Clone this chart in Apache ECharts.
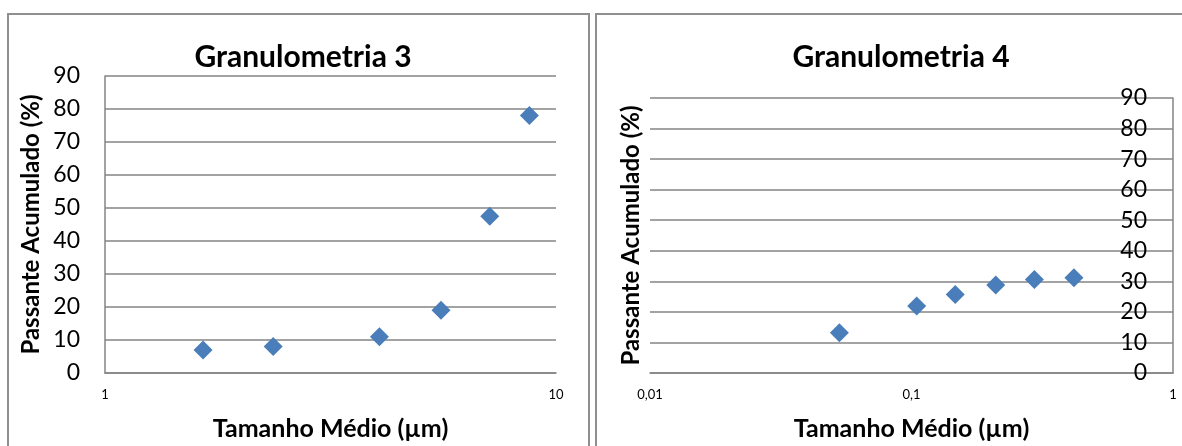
<!DOCTYPE html>
<html>
<head>
<meta charset="utf-8">
<script src="https://cdn.jsdelivr.net/npm/echarts@6/dist/echarts.min.js"></script>
<style>
html,body{margin:0;padding:0;background:#fff;}
#c{width:1182px;height:446px;}
</style>
</head>
<body>
<div id="c"></div>
<script>
// Chart 1: Granulometria 3
const title3 = 'Granulometria 3';
const size3 = [1.65, 2.36, 4.06, 5.56, 7.13, 8.73];
const pass3 = [7, 8, 11, 19, 47.5, 78];
const xTicks3 = [1, 10];

// Chart 2: Granulometria 4
const title4 = 'Granulometria 4';
const size4 = [0.053, 0.1047, 0.147, 0.21, 0.295, 0.418];
const pass4 = [13.2, 21.9, 25.7, 28.8, 30.6, 31.2];
const xTicks4 = ['0,01', '0,1', '1'];

const yTicks = [0, 10, 20, 30, 40, 50, 60, 70, 80, 90];
const xName = 'Tamanho Médio (µm)';
const yName = 'Passante Acumulado (%)';

const FONT = 'Lato';
const GRID = '#858585';
const BLUE = '#4a7ebb';

function fmtLog(v) {
  const s = Number(Number(v).toPrecision(3)).toString();
  return s.replace('.', ',');
}

const chart = echarts.init(document.getElementById('c'), null, {renderer: 'canvas'});

const yCommon = {
  type: 'value', min: yTicks[0], max: yTicks[yTicks.length - 1], interval: 10,
  axisTick: {show: false},
  axisLine: {show: true, lineStyle: {color: GRID, width: 1.5}},
  splitLine: {show: true, lineStyle: {color: GRID, width: 1.5}},
  axisLabel: {fontFamily: FONT, fontSize: 23, color: '#000', margin: 25},
  nameTextStyle: {fontFamily: FONT, fontSize: 24, fontWeight: 'bold', color: '#000'}
};

const xCommon = {
  type: 'log', logBase: 10,
  axisTick: {show: false},
  axisLine: {show: true, lineStyle: {color: GRID, width: 1.5}},
  splitLine: {show: false},
  axisLabel: {fontFamily: FONT, fontSize: 13, color: '#000', margin: 15, formatter: fmtLog},
  name: xName, nameLocation: 'middle', nameGap: 43,
  nameTextStyle: {fontFamily: FONT, fontSize: 25, fontWeight: 'bold', color: '#000'}
};

chart.setOption({
  animation: false,
  backgroundColor: '#fff',
  graphic: [
    {type: 'rect', shape: {x: 8, y: 14, width: 581, height: 450}, style: {fill: 'none', stroke: '#8f8f8f', lineWidth: 2}, silent: true},
    {type: 'rect', shape: {x: 596, y: 14, width: 620, height: 450}, style: {fill: 'none', stroke: '#8f8f8f', lineWidth: 2}, silent: true}
  ],
  title: [
    {text: title3, left: 298, top: 37, textAlign: 'center',
     textStyle: {fontFamily: FONT, fontSize: 30, fontWeight: 'bold', color: '#000'}},
    {text: title4, left: 896, top: 37, textAlign: 'center',
     textStyle: {fontFamily: FONT, fontSize: 30, fontWeight: 'bold', color: '#000'}}
  ],
  grid: [
    {left: 105, top: 76, width: 451, height: 301},
    {left: 650, top: 98, width: 523, height: 279}
  ],
  xAxis: [
    Object.assign({}, xCommon, {gridIndex: 0, min: xTicks3[0], max: xTicks3[xTicks3.length - 1]}),
    Object.assign({}, xCommon, {gridIndex: 1, min: 0.01, max: 1})
  ],
  yAxis: [
    Object.assign({}, yCommon, {gridIndex: 0, position: 'left',
      name: yName, nameLocation: 'middle', nameGap: 62}),
    Object.assign({}, yCommon, {gridIndex: 1, position: 'right',
      axisLabel: Object.assign({}, yCommon.axisLabel, {inside: true, margin: 26})}),
    Object.assign({}, yCommon, {gridIndex: 1, position: 'left',
      axisLine: {show: false}, splitLine: {show: false}, axisLabel: {show: false},
      name: yName, nameLocation: 'middle', nameGap: 7})
  ],
  series: [
    {type: 'scatter', xAxisIndex: 0, yAxisIndex: 0, symbol: 'diamond', symbolSize: 19,
     itemStyle: {color: BLUE, opacity: 1}, data: size3.map((x, i) => [x, pass3[i]])},
    {type: 'scatter', xAxisIndex: 1, yAxisIndex: 1, symbol: 'diamond', symbolSize: 19,
     itemStyle: {color: BLUE, opacity: 1}, data: size4.map((x, i) => [x, pass4[i]])}
  ]
});
</script>
</body>
</html>
